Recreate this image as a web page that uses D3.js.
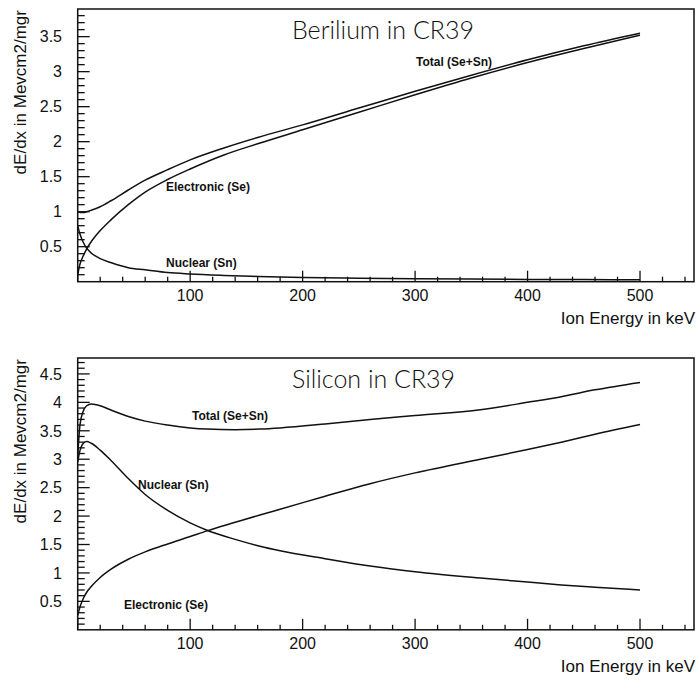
<!DOCTYPE html>
<html>
<head>
<meta charset="utf-8">
<script src="https://cdn.jsdelivr.net/npm/d3@7"></script>
<style>
  html, body { margin: 0; padding: 0; background: #fff; }
  svg { display: block; }
  text { font-family: "Liberation Sans", Arial, sans-serif; fill: #111; }
</style>
</head>
<body>
<svg id="chart" width="696" height="680"></svg>
<script>
// Energy grid (keV) and stopping powers (MeV cm2/mg) for Be ions in CR39
const beEnergy     = [0, 2, 5, 8, 12, 20, 30, 45, 60, 80, 100, 130, 160, 200, 250, 300, 350, 400, 450, 500];
const beElectronic = [0.10, 0.25, 0.37, 0.47, 0.57, 0.73, 0.89, 1.10, 1.28, 1.46, 1.61, 1.81, 1.97, 2.17, 2.42, 2.67, 2.91, 3.13, 3.33, 3.52];
const beNuclear    = [0.80, 0.68, 0.56, 0.48, 0.41, 0.33, 0.27, 0.20, 0.17, 0.13, 0.11, 0.09, 0.075, 0.06, 0.05, 0.042, 0.037, 0.033, 0.03, 0.027];
const beTotal      = [1.00, 0.99, 0.99, 1.00, 1.02, 1.07, 1.16, 1.31, 1.45, 1.60, 1.74, 1.91, 2.06, 2.24, 2.48, 2.72, 2.95, 3.17, 3.37, 3.55];

// Energy grid (keV) and stopping powers for Si ions in CR39
const siEnergy     = [0, 2, 5, 8, 12, 20, 30, 45, 60, 80, 100, 115, 140, 162, 180, 220, 260, 300, 358, 400, 430, 460, 500];
const siElectronic = [0.25, 0.40, 0.55, 0.66, 0.76, 0.92, 1.07, 1.24, 1.37, 1.51, 1.64, 1.74, 1.89, 2.02, 2.12, 2.35, 2.57, 2.76, 3.00, 3.17, 3.30, 3.44, 3.61];
const siNuclear    = [2.95, 3.15, 3.28, 3.31, 3.28, 3.16, 2.97, 2.66, 2.38, 2.10, 1.88, 1.75, 1.59, 1.47, 1.39, 1.25, 1.12, 1.02, 0.91, 0.84, 0.79, 0.75, 0.70];
const siTotal      = [3.05, 3.60, 3.85, 3.94, 3.97, 3.94, 3.86, 3.75, 3.67, 3.60, 3.55, 3.53, 3.52, 3.53, 3.55, 3.62, 3.70, 3.77, 3.87, 4.00, 4.10, 4.22, 4.35];

// Axis ticks
const xMajorTicks   = [0, 100, 200, 300, 400, 500];
const xTickLabels   = ["100", "200", "300", "400", "500"];
const beYTickLabels = ["0.5", "1", "1.5", "2", "2.5", "3", "3.5"];
const siYTickLabels = ["0.5", "1", "1.5", "2", "2.5", "3", "3.5", "4", "4.5"];

const panels = [
  {
    title: "Berilium in CR39",
    energy: beEnergy,
    series: [beTotal, beElectronic, beNuclear],
    yLabels: beYTickLabels,
    yMax: 3.895,
    top: 9, bottom: 281.7,
    labels: [
      { text: "Total (Se+Sn)",   x: 416, y: 66 },
      { text: "Electronic (Se)", x: 166, y: 191 },
      { text: "Nuclear (Sn)",    x: 166, y: 267 }
    ]
  },
  {
    title: "Silicon in CR39",
    energy: siEnergy,
    series: [siTotal, siElectronic, siNuclear],
    yLabels: siYTickLabels,
    yMax: 4.78,
    top: 358, bottom: 629.8,
    labels: [
      { text: "Total (Se+Sn)",   x: 192, y: 420 },
      { text: "Nuclear (Sn)",    x: 138, y: 489 },
      { text: "Electronic (Se)", x: 124, y: 609 }
    ]
  }
];

const svg = d3.select("#chart");
const left = 77.7, right = 694;
const x = d3.scaleLinear().domain([0, 548]).range([left, right]);

panels.forEach(p => {
  const y = d3.scaleLinear().domain([0, p.yMax]).range([p.bottom, p.top]);
  const g = svg.append("g");

  // frame
  g.append("rect")
    .attr("x", left).attr("y", p.top)
    .attr("width", right - left).attr("height", p.bottom - p.top)
    .attr("fill", "none").attr("stroke", "#111").attr("stroke-width", 1.5);

  // x axis ticks (inside, pointing up)
  const xMinor = d3.range(0, 548, 20).filter(v => !xMajorTicks.includes(v));
  g.selectAll(null).data(xMinor).join("line")
    .attr("x1", d => x(d)).attr("x2", d => x(d))
    .attr("y1", p.bottom).attr("y2", p.bottom - 5)
    .attr("stroke", "#111").attr("stroke-width", 1.3);
  g.selectAll(null).data(xMajorTicks).join("line")
    .attr("x1", d => x(d)).attr("x2", d => x(d))
    .attr("y1", p.bottom).attr("y2", p.bottom - 11)
    .attr("stroke", "#111").attr("stroke-width", 1.3);
  g.selectAll(null).data(xTickLabels).join("text")
    .attr("x", d => x(+d)).attr("y", p.bottom + 19)
    .attr("text-anchor", "middle").attr("font-size", 16)
    .text(d => d);
  g.append("text")
    .attr("x", 695).attr("y", p.bottom + 42.5)
    .attr("text-anchor", "end").attr("font-size", 17)
    .text("Ion Energy in keV");

  // y axis ticks (inside, pointing right)
  const yMinor = d3.range(0.1, p.yMax, 0.1).map(v => +v.toFixed(1)).filter(v => Math.abs(v * 2 - Math.round(v * 2)) > 1e-6);
  g.selectAll(null).data(yMinor).join("line")
    .attr("x1", left).attr("x2", left + 7)
    .attr("y1", d => y(d)).attr("y2", d => y(d))
    .attr("stroke", "#111").attr("stroke-width", 1.3);
  g.selectAll(null).data(p.yLabels).join("line")
    .attr("x1", left).attr("x2", left + 12)
    .attr("y1", d => y(+d)).attr("y2", d => y(+d))
    .attr("stroke", "#111").attr("stroke-width", 1.3);
  g.selectAll(null).data(p.yLabels).join("text")
    .attr("x", 62).attr("y", d => y(+d)).attr("dy", "0.36em")
    .attr("text-anchor", "end").attr("font-size", 16)
    .text(d => d);
  g.append("text")
    .attr("transform", `translate(26,${p.top + 1}) rotate(-90)`)
    .attr("text-anchor", "end").attr("font-size", 17)
    .text("dE/dx in Mevcm2/mgr");

  // title
  g.append("text")
    .attr("x", 292).attr("y", p.top + 30)
    .style("font-family", "Lato, 'Liberation Sans', sans-serif")
    .attr("font-size", 25).attr("font-weight", 300)
    .text(p.title);

  // curves
  const line = d3.line()
    .x((d, i) => x(p.energy[i]))
    .y(d => y(d))
    .curve(d3.curveMonotoneX);
  p.series.forEach(s => {
    g.append("path").datum(s)
      .attr("d", line)
      .attr("fill", "none").attr("stroke", "#111").attr("stroke-width", 1.5);
  });

  // curve labels
  g.selectAll(null).data(p.labels).join("text")
    .attr("x", d => d.x).attr("y", d => d.y)
    .attr("font-size", 12).attr("font-weight", "bold")
    .text(d => d.text);
});
</script>
</body>
</html>
